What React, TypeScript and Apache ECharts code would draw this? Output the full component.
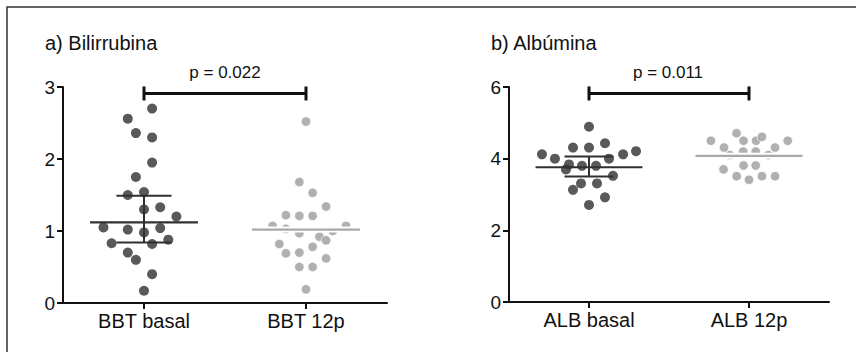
import React, { useEffect, useRef } from 'react';
import * as echarts from 'echarts';

// ---------- data ----------
const bbtCategories = ['BBT basal', 'BBT 12p'];
const albCategories = ['ALB basal', 'ALB 12p'];
const panelTitles = ['a) Bilirrubina', 'b) Albúmina'];
const pLabels = ['p = 0.022', 'p = 0.011'];

const bbtBasal = [2.70, 2.56, 2.36, 2.30, 1.95, 1.75, 1.50, 1.54, 1.30, 1.33, 1.20, 1.05, 1.02, 0.98, 1.04, 0.83, 0.82, 0.88, 0.70, 0.60, 0.40, 0.17];
const bbtBasalJitter = [0.05, -0.10, -0.05, 0.05, 0.05, -0.05, -0.10, 0, 0, 0.10, 0.20, -0.25, -0.10, 0, 0.10, -0.20, 0.05, 0.15, -0.10, -0.05, 0.05, 0];
const bbt12p = [2.52, 1.68, 1.53, 1.34, 1.22, 1.21, 1.21, 1.07, 1.07, 1.03, 0.97, 1.00, 0.92, 0.87, 0.82, 0.78, 0.69, 0.70, 0.62, 0.50, 0.50, 0.19];
const bbt12pJitter = [0, -0.041, 0.041, 0.124, -0.124, -0.041, 0.041, -0.206, 0.247, -0.124, -0.041, 0.165, 0.083, 0.124, -0.165, 0.041, -0.124, -0.041, 0.124, -0.041, 0.041, 0];

const albBasal = [4.89, 4.31, 4.31, 4.43, 4.12, 4.00, 4.00, 4.12, 4.21, 3.84, 3.70, 3.80, 3.80, 3.52, 3.31, 3.31, 3.13, 2.92, 2.71];
const albBasalJitter = [0, -0.10, 0, 0.10, -0.294, -0.213, 0.125, 0.213, 0.294, -0.125, -0.144, -0.044, 0.044, 0.15, -0.05, 0.05, -0.10, 0.10, 0];
const alb12p = [4.50, 4.71, 4.31, 4.50, 4.50, 4.61, 4.31, 4.50, 4.10, 4.20, 4.20, 4.10, 3.70, 3.81, 3.81, 3.51, 3.41, 3.51, 3.51];
const alb12pJitter = [-0.238, -0.078, -0.156, -0.034, 0.044, 0.081, 0.163, 0.242, -0.119, -0.036, 0.042, 0.121, -0.159, -0.034, 0.042, -0.077, 0, 0.081, 0.163];

// median per group, interquartile range for the basal group
const bbtMedians = [1.12, 1.02];
const bbtIqr = [0.84, 1.49];
const albMedians = [3.76, 4.08];
const albIqr = [3.50, 4.06];

const bbtAxis = { max: 3, interval: 1 };
const albAxis = { max: 6, interval: 2 };
const bbtBracketLevel = 2.91;
const albBracketLevel = 5.82;

// ---------- styles ----------
const FONT = '"Liberation Sans", Arial, Helvetica, sans-serif';
const INK = '#111111';
const DARK = '#303030';
const LIGHT = '#9c9c9c';
const LIGHT_LINE = '#a8a8a8';

export default function App() {
  const ref = useRef<HTMLDivElement>(null);

  useEffect(() => {
    if (!ref.current) return;
    const chart = echarts.init(ref.current, null, { renderer: 'svg' });

    const catAxis = (gridIndex: number, data: string[]) => ({
      type: 'category',
      gridIndex,
      data,
      boundaryGap: true,
      position: 'bottom',
      axisLine: { show: true, lineStyle: { color: INK, width: 2 } },
      axisTick: { show: true, alignWithLabel: true, length: 6, lineStyle: { color: INK, width: 2 } },
      axisLabel: { color: INK, fontSize: 20, fontFamily: FONT, margin: 8 },
      splitLine: { show: false },
    });
    const posAxis = (gridIndex: number) => ({
      type: 'value', gridIndex, min: 0.5, max: 2.5, show: false,
    });
    const yAxis = (gridIndex: number, max: number, interval: number) => ({
      type: 'value', gridIndex, min: 0, max, interval,
      axisLine: { show: true, lineStyle: { color: INK, width: 2 } },
      axisTick: { show: true, length: 6, lineStyle: { color: INK, width: 2 } },
      axisLabel: { color: INK, fontSize: 19, fontFamily: FONT, margin: 8 },
      splitLine: { show: false },
    });

    const dots = (xIdx: number, yIdx: number, values: number[], jitter: number[], pos: number, light: boolean) => ({
      type: 'scatter',
      xAxisIndex: xIdx, yAxisIndex: yIdx,
      data: values.map((v, i) => [pos + jitter[i], v]),
      symbolSize: light ? 9.5 : 10,
      itemStyle: light
        ? { color: LIGHT, borderColor: '#ffffff', borderWidth: 1 }
        : { color: DARK },
      z: 2,
      silent: true,
    });

    const medianSeries = (xIdx: number, yIdx: number, medians: number[], hw: number) => ({
      type: 'custom',
      xAxisIndex: xIdx, yAxisIndex: yIdx,
      data: medians.map((m, i) => [i + 1, m]),
      z: 5,
      silent: true,
      renderItem: (params: any, api: any) => {
        const x = api.value(0);
        const m = api.value(1);
        const a = api.coord([x - hw, m]);
        const b = api.coord([x + hw, m]);
        const light = params.dataIndex === 1;
        const shape = { x1: a[0], y1: a[1], x2: b[0], y2: b[1] };
        const children: any[] = [];
        if (light) children.push({ type: 'line', shape, style: { stroke: '#ffffff', lineWidth: 6 } });
        children.push({ type: 'line', shape, style: { stroke: light ? LIGHT_LINE : DARK, lineWidth: 2.2 } });
        return { type: 'group', children };
      },
    });

    const iqrSeries = (xIdx: number, yIdx: number, iqr: number[], hw: number) => ({
      type: 'custom',
      xAxisIndex: xIdx, yAxisIndex: yIdx,
      data: [[1, iqr[0], iqr[1]]],
      z: 5,
      silent: true,
      renderItem: (params: any, api: any) => {
        const x = api.value(0);
        const lo = api.value(1);
        const hi = api.coord([x, api.value(2)]);
        const loP = api.coord([x, lo]);
        const l1 = api.coord([x - hw, lo]);
        const r1 = api.coord([x + hw, lo]);
        const l2 = api.coord([x - hw, api.value(2)]);
        const r2 = api.coord([x + hw, api.value(2)]);
        const st = { stroke: DARK, lineWidth: 2 };
        return {
          type: 'group',
          children: [
            { type: 'line', shape: { x1: hi[0], y1: hi[1], x2: loP[0], y2: loP[1] }, style: st },
            { type: 'line', shape: { x1: l1[0], y1: l1[1], x2: r1[0], y2: r1[1] }, style: st },
            { type: 'line', shape: { x1: l2[0], y1: l2[1], x2: r2[0], y2: r2[1] }, style: st },
          ],
        };
      },
    });

    const bracketSeries = (xIdx: number, yIdx: number, level: number) => ({
      type: 'custom',
      xAxisIndex: xIdx, yAxisIndex: yIdx,
      data: [[1, 2, level]],
      z: 6,
      silent: true,
      clip: false,
      renderItem: (params: any, api: any) => {
        const a = api.coord([api.value(0), api.value(2)]);
        const b = api.coord([api.value(1), api.value(2)]);
        const cap = 7;
        const st = { stroke: INK, lineWidth: 3 };
        return {
          type: 'group',
          children: [
            { type: 'line', shape: { x1: a[0], y1: a[1], x2: b[0], y2: b[1] }, style: st },
            { type: 'line', shape: { x1: a[0], y1: a[1] - cap, x2: a[0], y2: a[1] + cap }, style: st },
            { type: 'line', shape: { x1: b[0], y1: b[1] - cap, x2: b[0], y2: b[1] + cap }, style: st },
          ],
        };
      },
    });

    const textEl = (text: string, x: number, y: number, size: number, align: string) => ({
      type: 'text', x, y, silent: true,
      style: { text, fill: INK, fontSize: size, fontFamily: FONT, textAlign: align, textVerticalAlign: 'middle' },
    });

    chart.setOption({
      animation: false,
      backgroundColor: '#ffffff',
      grid: [
        { left: 63, top: 87, width: 324, height: 216 },
        { left: 509, top: 87, width: 320, height: 215 },
      ],
      xAxis: [catAxis(0, bbtCategories), posAxis(0), catAxis(1, albCategories), posAxis(1)],
      yAxis: [yAxis(0, bbtAxis.max, bbtAxis.interval), yAxis(1, albAxis.max, albAxis.interval)],
      series: [
        dots(1, 0, bbtBasal, bbtBasalJitter, 1, false),
        dots(1, 0, bbt12p, bbt12pJitter, 2, true),
        medianSeries(1, 0, bbtMedians, 0.333),
        iqrSeries(1, 0, bbtIqr, 0.17),
        bracketSeries(1, 0, bbtBracketLevel),
        dots(3, 1, albBasal, albBasalJitter, 1, false),
        dots(3, 1, alb12p, alb12pJitter, 2, true),
        medianSeries(3, 1, albMedians, 0.334),
        iqrSeries(3, 1, albIqr, 0.153),
        bracketSeries(3, 1, albBracketLevel),
      ],
      graphic: [
        {
          type: 'rect', silent: true,
          shape: { x: 7, y: 7, width: 900, height: 400 },
          style: { fill: 'none', stroke: '#333333', lineWidth: 1.5 },
        },
        textEl(panelTitles[0], 45, 43, 20, 'left'),
        textEl(panelTitles[1], 491, 43, 20, 'left'),
        textEl(pLabels[0], 225, 72, 17, 'center'),
        textEl(pLabels[1], 668, 72, 17, 'center'),
      ],
    });

    return () => chart.dispose();
  }, []);

  return (
    <div
      ref={ref}
      style={{ position: 'fixed', left: 0, top: 0, width: 856, height: 352, background: '#ffffff' }}
    />
  );
}
